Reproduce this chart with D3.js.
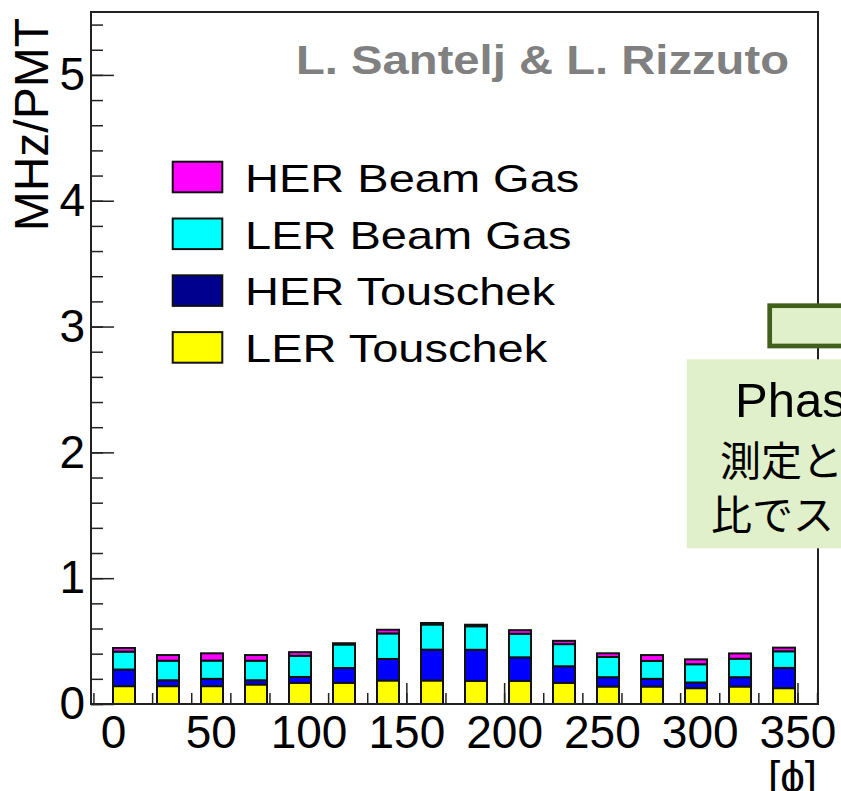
<!DOCTYPE html>
<html>
<head>
<meta charset="utf-8">
<script src="https://cdn.jsdelivr.net/npm/d3@7"></script>
<style>
body { margin: 0; background: #fff; }
svg { display: block; font-family: "Liberation Sans", Arial, sans-serif; }
</style>
</head>
<body>
<svg width="841" height="791"></svg>
<script>
// phi bins (deg) and per-bin rates (MHz/PMT), bottom to top of stack
var phi = [0, 22.5, 45, 67.5, 90, 112.5, 135, 157.5, 180, 202.5, 225, 247.5, 270, 292.5, 315, 337.5];
var lerTouschek = [0.142, 0.142, 0.142, 0.155, 0.168, 0.168, 0.187, 0.187, 0.184, 0.184, 0.168, 0.139, 0.139, 0.126, 0.139, 0.126];
var herTouschek = [0.132, 0.047, 0.058, 0.034, 0.047, 0.118, 0.171, 0.245, 0.247, 0.187, 0.132, 0.074, 0.061, 0.045, 0.074, 0.161];
var lerBeamGas = [0.142, 0.155, 0.145, 0.155, 0.168, 0.187, 0.203, 0.200, 0.187, 0.187, 0.176, 0.161, 0.142, 0.145, 0.147, 0.132];
var herBeamGas = [0.029, 0.045, 0.058, 0.045, 0.029, 0.010, 0.029, 0.012, 0.012, 0.029, 0.026, 0.029, 0.047, 0.039, 0.042, 0.029];

var seriesNames = ["LER Touschek", "HER Touschek", "LER Beam Gas", "HER Beam Gas"];
var barColors = ["#ffff00", "#0000ff", "#00ffff", "#ff00ff"];
var legendColors = ["#ffff00", "#00008f", "#00ffff", "#ff00ff"];
var xTicks = [0, 50, 100, 150, 200, 250, 300, 350];
var yTicks = [0, 1, 2, 3, 4, 5];
var binWidth = 22.5;

var svg = d3.select("svg");

var x = d3.scaleLinear().domain([-11.25, 360.5]).range([91, 818]);
var y = d3.scaleLinear().domain([0, 5.5]).range([704, 12]);

var rows = phi.map(function (p, i) {
  return {
    phi: p,
    "LER Touschek": lerTouschek[i],
    "HER Touschek": herTouschek[i],
    "LER Beam Gas": lerBeamGas[i],
    "HER Beam Gas": herBeamGas[i]
  };
});
var stacked = d3.stack().keys(seriesNames)(rows);

// minor ticks
svg.append("g")
  .attr("transform", "translate(0,704)")
  .call(d3.axisBottom(x).tickValues(d3.range(-10, 361, 10)).tickSizeInner(-11).tickSizeOuter(0).tickFormat(""))
  .call(function (g) { g.select(".domain").remove(); })
  .selectAll("line").attr("stroke", "#222").attr("stroke-width", 1.5);

svg.append("g")
  .attr("transform", "translate(91,0)")
  .call(d3.axisLeft(y).tickValues(d3.range(0, 5.5, 0.2)).tickSizeInner(-12).tickSizeOuter(0).tickFormat(""))
  .call(function (g) { g.select(".domain").remove(); })
  .selectAll("line").attr("stroke", "#222").attr("stroke-width", 1.5);

// major ticks + labels
var xAxis = svg.append("g")
  .attr("transform", "translate(0,704)")
  .call(d3.axisBottom(x).tickValues(xTicks).tickSizeInner(-21).tickSizeOuter(0).tickPadding(11).tickFormat(d3.format("d")));
xAxis.select(".domain").remove();
xAxis.selectAll("line").attr("stroke", "#222").attr("stroke-width", 1.5);
xAxis.selectAll("text").attr("font-size", 46).attr("fill", "#000")
  .attr("font-family", "Liberation Sans, Arial, sans-serif");

var yAxis = svg.append("g")
  .attr("transform", "translate(91,0)")
  .call(d3.axisLeft(y).tickValues(yTicks).tickSizeInner(-23).tickSizeOuter(0).tickPadding(6).tickFormat(d3.format("d")));
yAxis.select(".domain").remove();
yAxis.selectAll("line").attr("stroke", "#222").attr("stroke-width", 1.5);
yAxis.selectAll("text").attr("font-size", 46).attr("fill", "#000")
  .attr("font-family", "Liberation Sans, Arial, sans-serif");

// stacked bars
svg.append("g")
  .selectAll("g")
  .data(stacked)
  .enter().append("g")
  .attr("fill", function (d, i) { return barColors[i]; })
  .selectAll("rect")
  .data(function (d) { return d; })
  .enter().append("rect")
  .attr("x", function (d) { return x(d.data.phi); })
  .attr("width", function (d) { return x(d.data.phi + binWidth / 2) - x(d.data.phi); })
  .attr("y", function (d) { return y(d[1]); })
  .attr("height", function (d) { return y(d[0]) - y(d[1]); })
  .attr("stroke", "#111")
  .attr("stroke-width", 2);

// frame
svg.append("rect")
  .attr("x", x.range()[0]).attr("y", y.range()[1])
  .attr("width", x.range()[1] - x.range()[0])
  .attr("height", y.range()[0] - y.range()[1])
  .attr("fill", "none").attr("stroke", "#222").attr("stroke-width", 2);

// axis titles
svg.append("text")
  .attr("transform", "translate(48,18) rotate(-90)")
  .attr("text-anchor", "end")
  .attr("font-size", 48)
  .text("MHz/PMT");

svg.append("text")
  .attr("x", 817).attr("y", 792)
  .attr("text-anchor", "end")
  .attr("font-size", 44)
  .text("[\u03d5]");

// credit
svg.append("text")
  .attr("x", 296).attr("y", 74)
  .attr("font-size", 40)
  .attr("font-weight", "bold")
  .attr("fill", "#808080")
  .attr("textLength", 493)
  .attr("lengthAdjust", "spacingAndGlyphs")
  .text("L. Santelj & L. Rizzuto");

// legend
var legend = svg.append("g")
  .selectAll("g")
  .data(seriesNames.slice().reverse())
  .enter().append("g")
  .attr("transform", function (d, i) { return "translate(0," + (i * 56.8) + ")"; });

legend.append("rect")
  .attr("x", 172.7).attr("y", 161.7)
  .attr("width", 49.6).attr("height", 30.6)
  .attr("fill", function (d) { return legendColors[seriesNames.indexOf(d)]; })
  .attr("stroke", "#111").attr("stroke-width", 2);

legend.append("text")
  .attr("transform", "translate(245,191.7) scale(1.19,1)")
  .attr("font-size", 39.5)
  .text(function (d) { return d; });

// slide overlay boxes
svg.append("rect")
  .attr("x", 769.7).attr("y", 305.7)
  .attr("width", 100).attr("height", 40.3)
  .attr("fill", "#e0f0cb").attr("stroke", "#41601a").attr("stroke-width", 4.7);

svg.append("rect")
  .attr("x", 686.7).attr("y", 359.3)
  .attr("width", 200).attr("height", 189)
  .attr("fill", "#e0f0cb");

svg.append("text")
  .attr("x", 735).attr("y", 417)
  .attr("font-size", 49)
  .text("Phase");

var note = [["測定と", 720, 476], ["比でス", 711, 530]];
svg.selectAll(".note")
  .data(note)
  .enter().append("text")
  .attr("class", "note")
  .attr("x", function (d) { return d[1]; })
  .attr("y", function (d) { return d[2]; })
  .attr("font-family", "Noto Sans CJK JP, sans-serif")
  .attr("font-size", 41)
  .text(function (d) { return d[0]; });
</script>
</body>
</html>
